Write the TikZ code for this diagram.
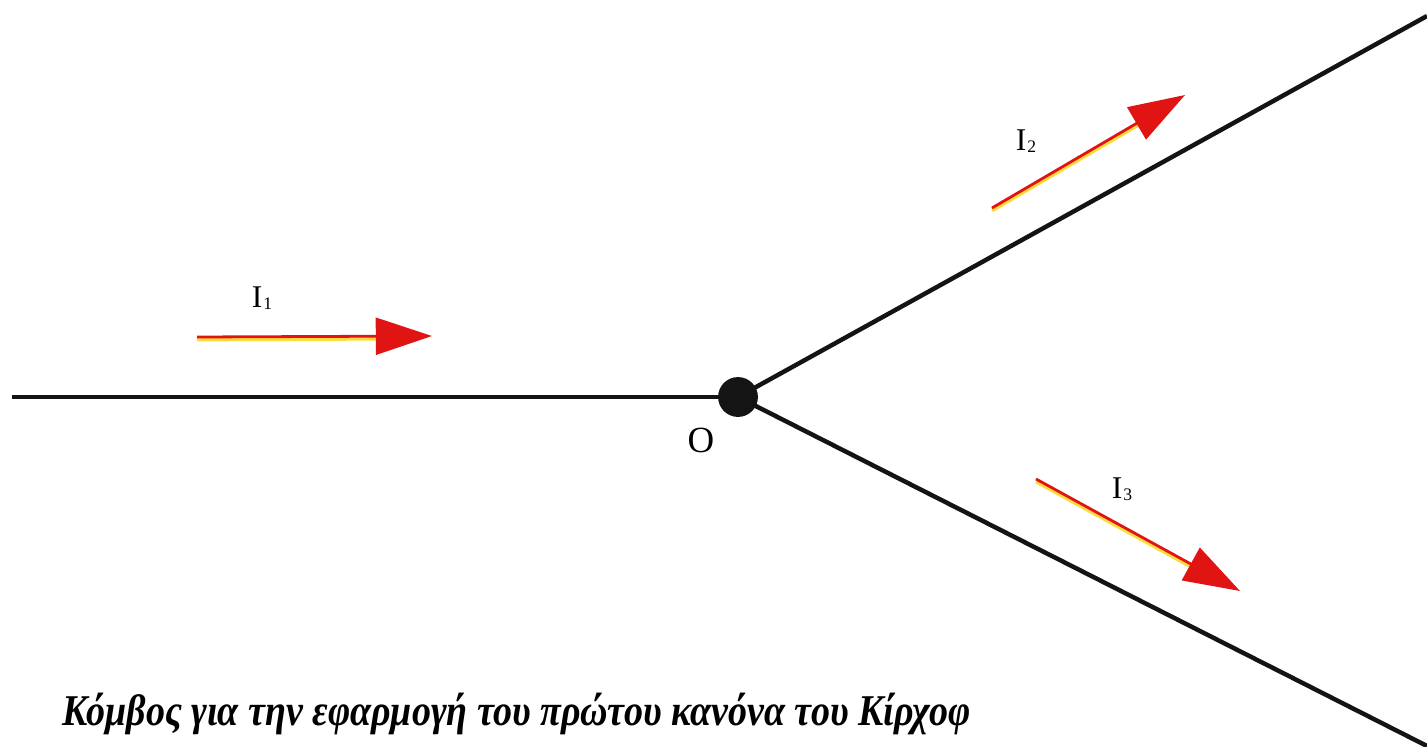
\documentclass[tikz,border=0pt]{standalone}
\usepackage{fontspec}
\setmainfont{Liberation Serif}
\usetikzlibrary{arrows.meta}
\definecolor{wire}{RGB}{20,20,20}
\definecolor{cred}{RGB}{225,20,20}
\definecolor{cyel}{RGB}{250,220,60}
\tikzset{
  wire/.style={line width=4.5pt*0.567, draw=wire},
  curshadow/.style={line width=3.5pt*0.567, draw=cyel, shorten >=20pt},
  current/.style={line width=2.8pt*0.567, draw=cred, -{Triangle[length=32pt,width=21pt]}},
  lbl/.style={font=\fontsize{18pt}{20pt}\selectfont, inner sep=0pt},
}
\newcommand{\cur}[1]{I\kern0.5pt\raisebox{-0.05em}{\fontsize{10pt}{11pt}\selectfont #1}}
\begin{document}
\begin{tikzpicture}[x=0.02cm,y=-0.02cm]
\useasboundingbox (0,0) rectangle (1427,747);
\coordinate (L) at (12,397);
\coordinate (U) at (1427,16);
\coordinate (D) at (1427,746);
\node[circle, fill=wire, minimum size=20pt*0.567*2, inner sep=0pt] (O) at (738,397) {};
\draw[wire] (L) -- (O.center);
\draw[wire] (O.center) -- (U);
\draw[wire] (O.center) -- (D);
\node[lbl, font=\fontsize{21pt}{22pt}\selectfont] (Olab) at (701,440) {O};
% I1
\coordinate (a1s) at (197,337);
\coordinate (a1e) at (432,336);
\draw[curshadow] ([yshift=-1.5pt]a1s) -- ([yshift=-1.5pt]a1e);
\draw[current] (a1s) -- (a1e);
\node[lbl] (l1) at (262,298) {\cur{1}};
% I2
\coordinate (a2s) at (992,208);
\coordinate (a2e) at (1185,95);
\draw[curshadow] ([yshift=-1.5pt]a2s) -- ([yshift=-1.5pt]a2e);
\draw[current] (a2s) -- (a2e);
\node[lbl] (l2) at (1026,141) {\cur{2}};
% I3
\coordinate (a3s) at (1036,479);
\coordinate (a3e) at (1240,591);
\draw[curshadow] ([yshift=-1.5pt]a3s) -- ([yshift=-1.5pt]a3e);
\draw[current] (a3s) -- (a3e);
\node[lbl] (l3) at (1122,489) {\cur{3}};
% caption
\node[anchor=west, inner sep=0pt, font=\fontsize{25pt}{28pt}\selectfont\bfseries\itshape] (cap) at (62,714)
  {\scalebox{0.865}[1]{Κόμβος για την εφαρμογή του πρώτου κανόνα του Κίρχοφ}};
\end{tikzpicture}
\end{document}
